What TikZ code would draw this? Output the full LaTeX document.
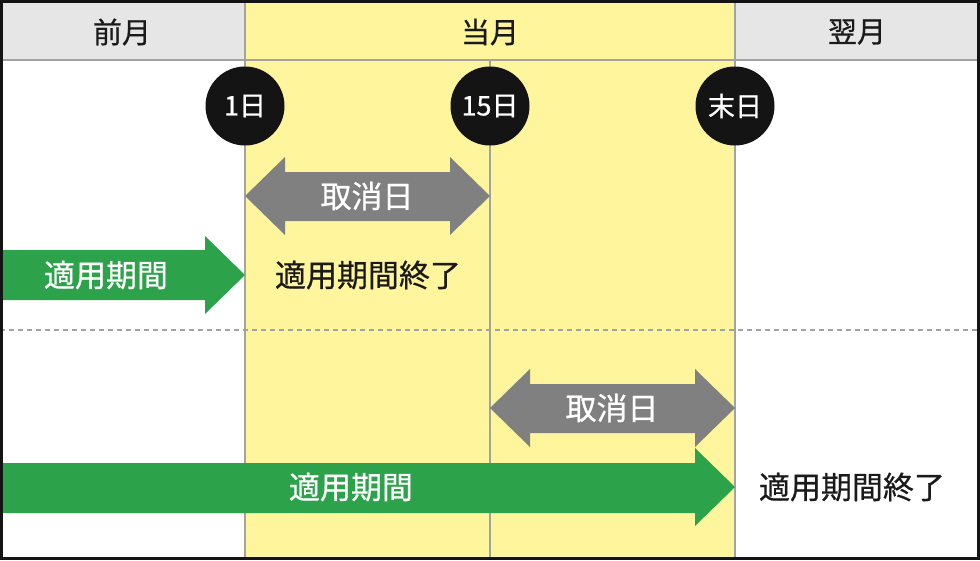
\documentclass[tikz,border=0pt]{standalone}
\usepackage{fontspec}
\setmainfont[FakeBold=0.6]{Noto Sans CJK JP}
\usepackage{tikz}
\usetikzlibrary{positioning}

\definecolor{monthyellow}{HTML}{FFF59D}
\definecolor{headgray}{HTML}{E6E6E6}
\definecolor{linegray}{HTML}{A3A3A3}
\definecolor{periodgreen}{HTML}{2CA24A}
\definecolor{cancelgray}{HTML}{808080}
\definecolor{dayblack}{HTML}{141414}
\definecolor{inkblack}{HTML}{1A1A1A}

\begin{document}
\begin{tikzpicture}[
  x=1pt, y=-1pt,
  every node/.style={align=center, inner sep=0pt},
  headtext/.style={text=inkblack, font=\fontsize{29}{32}\selectfont},
  daymark/.style={circle, fill=dayblack, text=white, minimum size=79pt, font=\fontsize{27}{30}\selectfont},
  labeltext/.style={text=inkblack, font=\fontsize{31}{36}\selectfont},
  arrowtext/.style={text=white, font=\fontsize{31}{36}\selectfont},
  gridline/.style={draw=linegray, line width=2pt},
  rowsep/.style={draw=linegray, line width=1.5pt, dash pattern=on 5pt off 4pt}
]
  \useasboundingbox (0,0) rectangle (980,560);

  % month columns
  \fill[white] (0,0) rectangle (980,560);
  \fill[monthyellow] (245,0) rectangle (735,560);
  \fill[headgray] (0,0) rectangle (245,60);
  \fill[headgray] (735,0) rectangle (980,60);
  \draw[gridline] (0,60) -- (980,60);
  \draw[gridline] (245,0) -- (245,560);
  \draw[gridline] (490,60) -- (490,560);
  \draw[gridline] (735,0) -- (735,560);
  \draw[rowsep] (0,330) -- (980,330);

  \node[headtext] (prev) at (122,32) {前月};
  \node[headtext] (this) at (490,32) {当月};
  \node[headtext] (next) at (857,32) {翌月};

  % case 1
  \fill[cancelgray] (245,196) -- (285,157) -- (285,172) -- (450,172) -- (450,157) -- (490,196)
    -- (450,235) -- (450,221) -- (285,221) -- (285,235) -- cycle;
  \fill[periodgreen] (0,250) -- (205,250) -- (205,236) -- (245,275) -- (205,314) -- (205,300)
    -- (0,300) -- cycle;
  \node[arrowtext] (cancel1) at (367,196) {取消日};
  \node[arrowtext] (period1) at (106,275) {適用期間};
  \node[labeltext] (end1) at (368,275) {適用期間終了};

  % case 2
  \fill[cancelgray] (490,408) -- (530,369) -- (530,384) -- (695,384) -- (695,369) -- (735,408)
    -- (695,447) -- (695,433) -- (530,433) -- (530,447) -- cycle;
  \fill[periodgreen] (0,463) -- (695,463) -- (695,448) -- (735,487) -- (695,526) -- (695,513)
    -- (0,513) -- cycle;
  \node[arrowtext] (cancel2) at (612,408) {取消日};
  \node[arrowtext] (period2) at (351,487) {適用期間};
  \node[labeltext] (end2) at (852,487) {適用期間終了};

  % day marks
  \node[daymark] (first) at (245,106) {1日};
  \node[daymark] (mid) at (490,106) {15日};
  \node[daymark] (last) at (735,106) {末日};

  \draw[dayblack, line width=3pt] (1.5,1.5) rectangle (978.5,558.5);
\end{tikzpicture}
\end{document}
